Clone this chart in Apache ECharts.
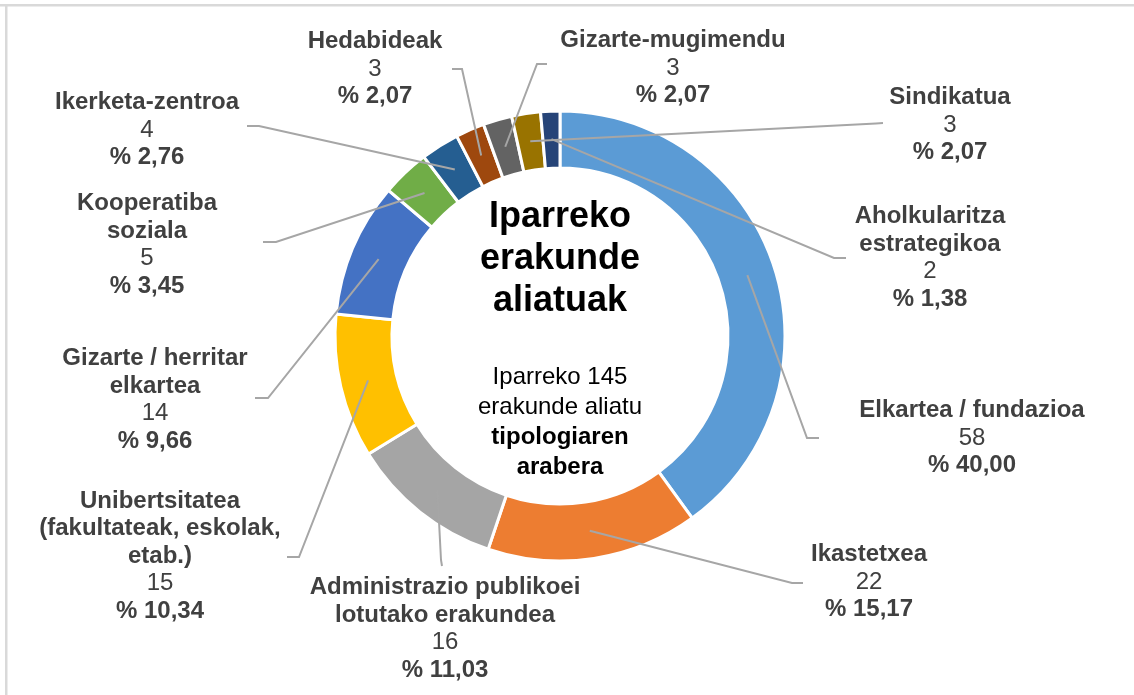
<!DOCTYPE html>
<html>
<head>
<meta charset="utf-8">
<title>Iparreko erakunde aliatuak</title>
<script src="https://cdn.jsdelivr.net/npm/echarts@6/dist/echarts.min.js"></script>
<style>
    html, body { margin: 0; padding: 0; background: #fff; }
    #chart { width: 1134px; height: 695px; }
</style>
</head>
<body>
<div id="chart"></div>
<script>
// datuak: erakunde motak eta kopuruak (erlojuaren noranzkoan, goian hasita)
var categories = [
    'Elkartea / fundazioa',
    'Ikastetxea',
    'Administrazio publikoei\nlotutako erakundea',
    'Unibertsitatea\n(fakultateak, eskolak,\netab.)',
    'Gizarte / herritar\nelkartea',
    'Kooperatiba\nsoziala',
    'Ikerketa-zentroa',
    'Hedabideak',
    'Gizarte-mugimendu',
    'Sindikatua',
    'Aholkularitza\nestrategikoa'
];
var counts = [58, 22, 16, 15, 14, 5, 4, 3, 3, 3, 2];
var colors = ['#5B9BD5', '#ED7D31', '#A5A5A5', '#FFC000', '#4472C4', '#70AD47',
              '#255E91', '#9E480E', '#636363', '#997300', '#264478'];

var centerTitle = ['Iparreko', 'erakunde', 'aliatuak'];
var centerSub = ['Iparreko 145', 'erakunde aliatu'];
var centerSubBold = ['tipologiaren', 'arabera'];

// etiketen kokapena (testuaren erdigunea) eta marra-puntuak testuaren aldean
var labelPos = [[972, 438], [869, 582], [445, 629], [160, 556], [155, 400], [147, 245],
                [147, 130], [375, 69], [673, 68], [950, 125], [930, 258]];
var lineEnd = [[819, 438], [803, 583], [442, 566], [287, 557], [255, 398], [263, 242],
               [247, 126], [452, 69], [547, 64], [883, 123], [846, 258]];
var lineBend = [[807, 438], [792, 583], [441, 560], [299, 557], [268, 398], [276, 242],
                [259, 126], [462, 69], [537, 64], [876, 123.4], [834, 258]];

var CX = 560, CY = 336, R0 = 168, R1 = 225, RLINE = 197;

var total = counts.reduce(function (a, b) { return a + b; }, 0);
var midAngles = [];
var cum = 0;
for (var i = 0; i < counts.length; i++) {
    midAngles.push((cum + counts[i] / 2) / total * Math.PI * 2);
    cum += counts[i];
}

var seriesData = categories.map(function (name, i) {
    return { name: name, value: counts[i], itemStyle: { color: colors[i] } };
});

var fontFam = 'Arial, "Liberation Sans", sans-serif';

var option = {
    animation: false,
    graphic: [
        { type: 'rect', shape: { x: 0, y: 4, width: 1134, height: 2.5 }, style: { fill: '#D9D9D9' } },
        { type: 'rect', shape: { x: 5, y: 4, width: 2.5, height: 691 }, style: { fill: '#D9D9D9' } },
        {
            type: 'text', x: CX, y: 259,
            style: {
                text: centerTitle.join('\n'),
                align: 'center', verticalAlign: 'middle',
                font: 'bold 36px ' + fontFam, lineHeight: 42, fill: '#000'
            }
        },
        {
            type: 'text', x: CX, y: 422,
            style: {
                text: centerSub.map(function (s) { return '{r|' + s + '}'; }).join('\n') + '\n' +
                      centerSubBold.map(function (s) { return '{b|' + s + '}'; }).join('\n'),
                align: 'center', verticalAlign: 'middle',
                rich: {
                    r: { fontSize: 24, fontFamily: fontFam, lineHeight: 30, fill: '#000' },
                    b: { fontSize: 24, fontFamily: fontFam, fontWeight: 'bold', lineHeight: 30, fill: '#000' }
                }
            }
        }
    ],
    series: [
        // eraztuna
        {
            type: 'pie',
            z: 2,
            center: [CX, CY],
            radius: [R0, R1],
            startAngle: 90,
            clockwise: true,
            silent: true,
            emphasis: { disabled: true },
            itemStyle: { borderColor: '#fff', borderWidth: 3 },
            label: { show: false },
            labelLine: { show: false },
            data: seriesData
        },
        // etiketak eta marrak eraztunaren gainean
        {
            type: 'pie',
            z: 3,
            center: [CX, CY],
            radius: [R0, R1],
            startAngle: 90,
            clockwise: true,
            silent: true,
            avoidLabelOverlap: false,
            emphasis: { disabled: true },
            itemStyle: { color: 'rgba(0,0,0,0)', borderWidth: 0 },
            label: {
                show: true,
                position: 'outside',
                color: '#404040',
                formatter: function (p) {
                    var pct = (p.value / total * 100).toFixed(2).replace('.', ',');
                    var nameLines = p.name.split('\n').map(function (l) { return '{n|' + l + '}'; });
                    return nameLines.join('\n') + '\n{v|' + p.value + '}\n{p|% ' + pct + '}';
                },
                rich: {
                    n: { fontSize: 24, fontWeight: 'bold', fontFamily: fontFam, color: '#404040', lineHeight: 27.5 },
                    v: { fontSize: 24, fontFamily: fontFam, color: '#404040', lineHeight: 27.5 },
                    p: { fontSize: 24, fontWeight: 'bold', fontFamily: fontFam, color: '#404040', lineHeight: 27.5 }
                }
            },
            labelLine: {
                show: true,
                lineStyle: { color: '#A6A6A6', width: 2 }
            },
            labelLayout: function (params) {
                var i = params.dataIndex;
                var a = midAngles[i];
                var inner = [CX + RLINE * Math.sin(a), CY - RLINE * Math.cos(a)];
                return {
                    x: labelPos[i][0],
                    y: labelPos[i][1],
                    align: 'center',
                    verticalAlign: 'middle',
                    labelLinePoints: [inner, lineBend[i], lineEnd[i]]
                };
            },
            data: categories.map(function (name, i) {
                return { name: name, value: counts[i] };
            })
        }
    ]
};

var chart = echarts.init(document.getElementById('chart'), null, { renderer: 'canvas' });
chart.setOption(option);
</script>
</body>
</html>
